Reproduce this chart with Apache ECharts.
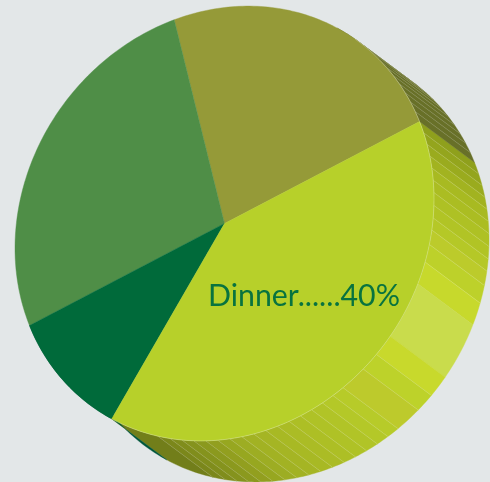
<!DOCTYPE html>
<html>
<head>
<meta charset="utf-8">
<style>html,body{margin:0;padding:0;background:#e3e7e8}#c{width:490px;height:482px}</style>
<script src="https://cdn.jsdelivr.net/npm/echarts@6/dist/echarts.min.js"></script>
</head>
<body>
<div id="c"></div>
<script>
// Meal shares, in percent, counter-clockwise from the Dinner / olive boundary.
const sliceNames = ['', '', '', 'Dinner'];
const sliceValues = [22.9, 27.1, 10, 40];
const sliceColors = ['#959a38', '#4f8e47', '#006a3a', '#b7d02a'];

// Side wall of the Dinner slice: strip edges in degrees, walking clockwise from its first boundary.
const dinnerEdges = [0, 3.3, 6.6, 9.9, 13.2, 16.5, 19.8, 23.2, 26.5, 29.7, 33.5, 38.2, 44.1, 59.2, 65, 70, 77,
  80.3, 83.6, 86.9, 90.2, 93.5, 96.8, 100.1, 103.4, 106.7, 110, 113.3, 116.6, 119.9, 123.2, 126.5, 130, 144];
const dinnerColors = ['#8fa01c', '#94a51d', '#9aab1e', '#a2b320', '#a8ba21', '#abbd22', '#aec124', '#b1c425',
  '#b5c827', '#bccb2b', '#bdd12a', '#c7d92c', '#c9dc4c', '#c8d92c', '#bdd22a', '#bdca2c',
  '#b7cb29', '#b4c828', '#b1c427', '#afc226', '#adbf25', '#abbc25', '#a8b924', '#a5b524', '#a2b223', '#9dad23',
  '#97a720', '#929f1f', '#8b991e', '#85931d', '#808d1c', '#7b871b', '#727e1a'];
// Side wall of the olive slice.
const oliveEdges = [0, 3, 6, 9, 12, 15, 18, 21, 24, 27, 30, 33, 36];
const oliveColor = '#687028';
const darkWallColor = '#00563a';

const bg = '#e3e7e8';
const labelColor = '#08733f';
const cx = 224.5, cy = 223.5;
// Tilted disc: screen position of the circle's two unit axes.
const axisA = [195, -102], axisB = [-76.6, -192];
// Extrusion vector of the wall.
const depth = [55, 41];

const rad = Math.PI / 180;
const onRim = (deg, off) => {
  const c = Math.cos(deg * rad), s = Math.sin(deg * rad);
  return [cx + axisA[0] * c + axisB[0] * s + (off ? depth[0] : 0),
          cy + axisA[1] * c + axisB[1] * s + (off ? depth[1] : 0)];
};
const arc = (from, to, off) => {
  const n = Math.max(1, Math.ceil(Math.abs(to - from)));
  const pts = [];
  for (let i = 0; i <= n; i++) pts.push(onRim(from + (to - from) * i / n, off));
  return pts;
};

// Cumulative boundaries of each slice, in degrees.
const total = sliceValues.reduce((a, b) => a + b, 0);
const bounds = [0];
sliceValues.forEach(v => bounds.push(bounds[bounds.length - 1] + v / total * 360));

// One wall strip per row: [start, end, colour, separator opacity].
const strips = [];
dinnerColors.forEach((col, i) => {
  const e0 = dinnerEdges[i];
  const plain = e0 === 44.1 || e0 === 59.2 || e0 === 0;
  strips.push([-dinnerEdges[i], -dinnerEdges[i + 1], col, plain ? 0 : 0.22]);
});
oliveEdges.slice(0, -1).forEach((e, i) => {
  strips.push([e, oliveEdges[i + 1], oliveColor, i ? 0.2 : 0]);
});
strips.push([bounds[2], bounds[3], darkWallColor, 0]);

const renderStrip = (params, api) => {
  const a0 = api.value(0), a1 = api.value(1);
  const col = strips[params.dataIndex][2];
  const sep = api.value(3);
  const top = arc(a0, a1, false);
  const low = arc(a1, a0, true);
  const children = [{
    type: 'polygon',
    shape: { points: top.concat(low) },
    style: { fill: col, stroke: col, lineWidth: 0.4 }
  }];
  if (sep > 0) {
    children.push({
      type: 'line',
      shape: { x1: onRim(a0, false)[0], y1: onRim(a0, false)[1], x2: onRim(a0, true)[0], y2: onRim(a0, true)[1] },
      style: { stroke: 'rgba(255,255,255,' + sep + ')', lineWidth: 0.7 }
    });
  }
  return { type: 'group', children };
};

const renderSlice = (params, api) => {
  const i = params.dataIndex;
  const from = bounds[i], to = bounds[i + 1];
  const pts = [[cx, cy]].concat(arc(from, to, false));
  const col = sliceColors[i];
  const children = [{
    type: 'polygon',
    shape: { points: pts },
    style: { fill: col, stroke: col, lineWidth: 0.4 }
  }];
  if (i === 3 || i === 0) {
    children.push({
      type: 'polyline',
      shape: { points: i === 3 ? arc(from, to, false) : arc(from, from + 30, false) },
      style: { fill: null, stroke: 'rgba(255,255,255,0.35)', lineWidth: 0.7 }
    });
  }
  return { type: 'group', children };
};

const renderLabel = (params, api) => ({
  type: 'text',
  x: 208,
  y: 296.5,
  style: {
    text: sliceNames[3] + '......' + sliceValues[3] + '%',
    fill: labelColor,
    fontFamily: 'Lato',
    fontSize: 30.3,
    align: 'left',
    verticalAlign: 'middle'
  }
});

const chart = echarts.init(document.getElementById('c'), null, { renderer: 'canvas' });
chart.setOption({
  backgroundColor: bg,
  animation: false,
  tooltip: { show: false },
  series: [
    { type: 'custom', coordinateSystem: 'none', silent: true, z: 1, renderItem: renderStrip,
      data: strips.map(s => [s[0], s[1], 0, s[3]]) },
    { type: 'custom', coordinateSystem: 'none', silent: true, z: 2, renderItem: renderSlice,
      data: sliceValues.map(v => [v]) },
    { type: 'custom', coordinateSystem: 'none', silent: true, z: 3, renderItem: renderLabel,
      data: [[sliceValues[3]]] }
  ]
});
</script>
</body>
</html>
